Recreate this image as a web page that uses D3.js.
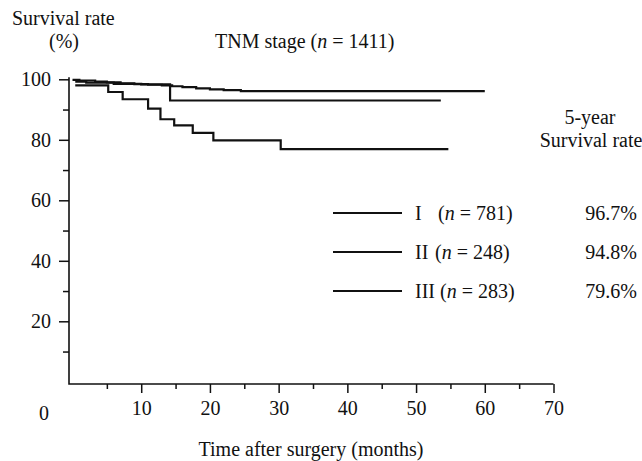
<!DOCTYPE html>
<html>
<head>
<meta charset="utf-8">
<script src="https://cdn.jsdelivr.net/npm/d3@7"></script>
<style>
  body { margin: 0; background: #fff; }
  svg text { font-family: 'Liberation Serif', 'Times New Roman', serif; fill: #111; }
</style>
</head>
<body>
<div id="chart"></div>
<script>
// survival curves (months, %)
var stageIMonths = [0, 1, 3.3, 5, 7, 9, 11, 13, 14.5, 16, 18, 20, 22, 24.5, 60];
var stageISurv = [99.8, 99.6, 99.2, 99.0, 98.7, 98.4, 98.2, 98.0, 97.7, 97.4, 97.0, 96.7, 96.4, 96.1, 96.1];
var stageIIMonths = [0.4, 2, 6, 10, 14.2, 53.6];
var stageIISurv = [99.2, 98.9, 98.5, 98.3, 93.0, 93.0];
var stageIIIMonths = [0.4, 5.2, 7.3, 11, 12.8, 14.8, 17.5, 20.5, 30.3, 54.7];
var stageIIISurv = [98.0, 95.8, 93.4, 90.3, 86.8, 84.8, 82.3, 79.8, 76.9, 76.9];

var stageNames = ['I', 'II', 'III'];
var stageN = [781, 248, 283];
var fiveYear = ['96.7%', '94.8%', '79.6%'];

var xMajor = [10, 20, 30, 40, 50, 60, 70],
xMinor = [5, 15, 25, 35, 45, 55, 65],
yMajor = [20, 40, 60, 80, 100],
yMinor = [10, 30, 50, 70, 90];

var W = 642, H = 461,
fs = 20,
axisX = 69, axisY = 384;

var svg = d3.select('#chart').
append('svg').
attr('width', W).
attr('height', H);

var xScale = d3.scaleLinear().domain([0, 70]).range([72.5, 553.5]);
var yScale = d3.scaleLinear().domain([0, 100]).range([381.8, 79.3]);

// axes
var xAxis = d3.axisBottom(xScale).tickValues(xMajor).tickSize(9).tickSizeOuter(0).tickPadding(8);
var xAxisMinor = d3.axisBottom(xScale).tickValues(xMinor).tickSize(5).tickSizeOuter(0).tickFormat('');
var yAxis = d3.axisLeft(yScale).tickValues(yMajor).tickSize(10).tickSizeOuter(0).tickPadding(8);
var yAxisMinor = d3.axisLeft(yScale).tickValues(yMinor).tickSize(6).tickSizeOuter(0).tickFormat('');

function styleAxis(g) {
  g.select('.domain').remove();
  g.selectAll('line').attr('stroke', '#111').attr('stroke-width', 1.5);
  g.selectAll('text').attr('font-size', fs).attr('fill', '#111').
  attr('font-family', "'Liberation Serif', serif");
}

svg.append('g').attr('transform', 'translate(0,' + axisY + ')').call(xAxis).call(styleAxis);
svg.append('g').attr('transform', 'translate(0,' + axisY + ')').call(xAxisMinor).call(styleAxis);
svg.append('g').attr('transform', 'translate(' + axisX + ',0)').call(yAxis).call(styleAxis);
svg.append('g').attr('transform', 'translate(' + axisX + ',0)').call(yAxisMinor).call(styleAxis);

svg.append('path').
attr('d', 'M' + axisX + ',' + (yScale(100) - 2) + 'V' + axisY + 'H' + xScale(70)).
attr('fill', 'none').
attr('stroke', '#111').
attr('stroke-width', 1.6);

svg.append('text').attr('x', 44).attr('y', 420).attr('text-anchor', 'middle').
attr('font-size', fs).text('0');

// curves
var stages = [
{ m: stageIMonths, s: stageISurv },
{ m: stageIIMonths, s: stageIISurv },
{ m: stageIIIMonths, s: stageIIISurv }];

var line = d3.line().
x(d => xScale(d[0])).
y(d => yScale(d[1])).
curve(d3.curveStepAfter);

svg.selectAll('path.curve').
data(stages).
enter().
append('path').
attr('class', 'curve').
attr('d', d => line(d.m.map((v, i) => [v, d.s[i]]))).
attr('fill', 'none').
attr('stroke', '#111').
attr('stroke-width', 2.2);

// titles
svg.append('text').attr('x', 12).attr('y', 25).attr('font-size', fs).text('Survival rate');
svg.append('text').attr('x', 49).attr('y', 48).attr('font-size', fs).text('(%)');

var title = svg.append('text').attr('x', 215).attr('y', 48).attr('font-size', fs);
title.append('tspan').text('TNM stage (');
title.append('tspan').attr('font-style', 'italic').text('n');
title.append('tspan').text(' = 1411)');

svg.append('text').attr('x', 311).attr('y', 456).attr('text-anchor', 'middle').
attr('font-size', fs).text('Time after surgery (months)');

svg.append('text').attr('x', 590).attr('y', 124).attr('text-anchor', 'middle').
attr('font-size', fs).text('5-year');
svg.append('text').attr('x', 591).attr('y', 147).attr('text-anchor', 'middle').
attr('font-size', fs).text('Survival rate');

// legend
var legY = d3.scalePoint().domain(stageNames).range([213, 291]);
var parenX = [438, 435, 440];

var leg = svg.selectAll('g.leg').
data(stageNames).
enter().
append('g').
attr('class', 'leg').
attr('transform', d => 'translate(0,' + legY(d) + ')');

leg.append('line').
attr('x1', 333).attr('x2', 402).
attr('stroke', '#111').attr('stroke-width', 2);

leg.append('text').attr('x', 415).attr('y', 7).attr('font-size', fs).text(d => d);

leg.each(function (d, i) {
  var t = d3.select(this).append('text').attr('x', parenX[i]).attr('y', 7).attr('font-size', fs);
  t.append('tspan').text('(');
  t.append('tspan').attr('font-style', 'italic').text('n');
  t.append('tspan').text(' = ' + stageN[i] + ')');
  d3.select(this).append('text').attr('x', 637).attr('y', 7).attr('text-anchor', 'end').
  attr('font-size', fs).text(fiveYear[i]);
});
</script>
</body>
</html>
